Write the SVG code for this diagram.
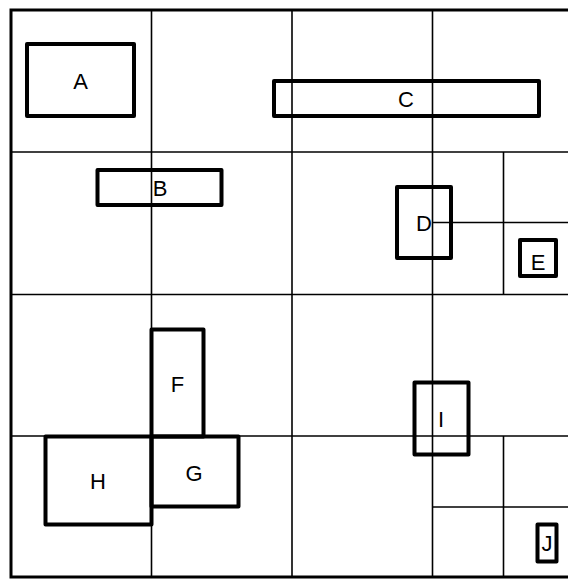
<svg xmlns="http://www.w3.org/2000/svg" width="568" height="579" viewBox="0 0 568 579">
<style>
.grid{stroke:#000;stroke-width:1.6;fill:none}
.outer{stroke:#000;stroke-width:3;fill:none}
.box{stroke:#000;stroke-width:4;fill:none;stroke-linejoin:round}
.lbl{font-family:"Liberation Sans",Arial,sans-serif;font-size:22px;fill:#000;text-anchor:middle;dominant-baseline:central}
</style>
<rect width="568" height="579" fill="#fff"/>
<g id="connectors">
<rect class="outer" x="11" y="10" width="563" height="567"/>
<line class="grid" x1="151.5" y1="10" x2="151.5" y2="577"/>
<line class="grid" x1="292" y1="10" x2="292" y2="577"/>
<line class="grid" x1="432.5" y1="10" x2="432.5" y2="577"/>
<line class="grid" x1="11" y1="152" x2="574" y2="152"/>
<line class="grid" x1="11" y1="294.5" x2="574" y2="294.5"/>
<line class="grid" x1="11" y1="436" x2="574" y2="436"/>
<line class="grid" x1="503.5" y1="152" x2="503.5" y2="294.5"/>
<line class="grid" x1="432.5" y1="222.5" x2="574" y2="222.5"/>
<line class="grid" x1="503.5" y1="436" x2="503.5" y2="577"/>
<line class="grid" x1="432.5" y1="507" x2="574" y2="507"/>
</g>
<g id="A"><rect class="box" x="27" y="44" width="107" height="72"/><text class="lbl" x="80.5" y="81">A</text></g>
<g id="B"><rect class="box" x="97.5" y="170" width="124" height="35"/><text class="lbl" x="160" y="188.5">B</text></g>
<g id="C"><rect class="box" x="274" y="81" width="265" height="35"/><text class="lbl" x="406" y="99">C</text></g>
<g id="D"><rect class="box" x="397" y="187" width="54" height="71"/><text class="lbl" x="424" y="223">D</text></g>
<g id="E"><rect class="box" x="520" y="240" width="36" height="36"/><text class="lbl" x="538" y="262">E</text></g>
<g id="F"><rect class="box" x="151.5" y="329.5" width="52" height="107"/><text class="lbl" x="177.5" y="384">F</text></g>
<g id="G"><rect class="box" x="151.5" y="436.5" width="87" height="70"/><text class="lbl" x="194" y="473">G</text></g>
<g id="H"><rect class="box" x="45.5" y="436.5" width="106" height="88"/><text class="lbl" x="98" y="481">H</text></g>
<g id="I"><rect class="box" x="414.5" y="382.5" width="54" height="72"/><text class="lbl" x="441" y="419">I</text></g>
<g id="J"><rect class="box" x="537.5" y="524.5" width="19" height="37"/><text class="lbl" x="547" y="543">J</text></g>
</svg>
